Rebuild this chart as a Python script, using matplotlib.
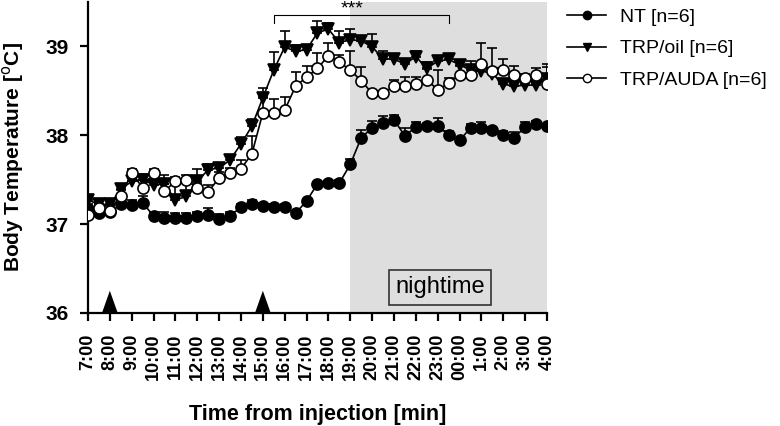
import numpy as np
import matplotlib
matplotlib.use('Agg')
import matplotlib.pyplot as plt
from matplotlib.lines import Line2D

plt.rcParams['font.family'] = ['Liberation Sans', 'DejaVu Sans']

# half-hour samples from 7:00 (0 h) to 4:00 next day (21 h)
hours = np.arange(0, 21.5, 0.5)

tick_labels = ['7:00', '8:00', '9:00', '10:00', '11:00', '12:00', '13:00', '14:00',
               '15:00', '16:00', '17:00', '18:00', '19:00', '20:00', '21:00', '22:00',
               '23:00', '00:00', '1:00', '2:00', '3:00', '4:00']

nt = [37.17, 37.12, 37.13, 37.22, 37.21, 37.24, 37.09, 37.07, 37.07, 37.07,
      37.09, 37.10, 37.06, 37.09, 37.19, 37.22, 37.20, 37.19, 37.19, 37.12,
      37.26, 37.45, 37.46, 37.46, 37.67, 37.97, 38.08, 38.13, 38.17, 37.99,
      38.09, 38.10, 38.10, 38.00, 37.94, 38.08, 38.08, 38.06, 38.00, 37.97,
      38.09, 38.12, 38.10]
nt_err = [0.05, 0.08, 0.07, 0.04, 0.06, 0.07, 0.05, 0.06, 0.05, 0.05,
          0.04, 0.08, 0.05, 0.05, 0.03, 0.05, 0.04, 0.04, 0.04, 0.0,
          0.02, 0.02, 0.02, 0.03, 0.06, 0.09, 0.08, 0.08, 0.05, 0.09,
          0.06, 0.04, 0.09, 0.04, 0.02, 0.04, 0.07, 0.03, 0.05, 0.06,
          0.06, 0.04, 0.02]

oil = [37.27, 37.22, 37.22, 37.39, 37.48, 37.50, 37.44, 37.45, 37.27, 37.31,
       37.48, 37.61, 37.63, 37.72, 37.90, 38.10, 38.42, 38.73, 38.99, 38.94,
       38.96, 39.15, 39.19, 39.04, 39.07, 39.06, 38.99, 38.86, 38.85, 38.80,
       38.88, 38.75, 38.83, 38.85, 38.79, 38.73, 38.72, 38.69, 38.57, 38.55,
       38.56, 38.56, 38.63]
oil_err = [0.06, 0.05, 0.04, 0.06, 0.06, 0.06, 0.05, 0.10, 0.19, 0.19,
           0.14, 0.06, 0.06, 0.06, 0.08, 0.08, 0.11, 0.20, 0.18, 0.07,
           0.03, 0.13, 0.07, 0.13, 0.12, 0.03, 0.14, 0.09, 0.03, 0.02,
           0.06, 0.07, 0.04, 0.04, 0.04, 0.06, 0.04, 0.05, 0.03, 0.03,
           0.03, 0.03, 0.17]

auda = [37.10, 37.18, 37.15, 37.32, 37.57, 37.41, 37.57, 37.37, 37.48, 37.49,
        37.41, 37.36, 37.52, 37.57, 37.62, 37.79, 38.25, 38.25, 38.28, 38.55,
        38.65, 38.75, 38.89, 38.82, 38.73, 38.61, 38.47, 38.47, 38.55, 38.55,
        38.57, 38.62, 38.51, 38.58, 38.68, 38.67, 38.80, 38.72, 38.73, 38.68,
        38.64, 38.68, 38.57]
auda_err = [0.04, 0.05, 0.06, 0.06, 0.05, 0.08, 0.05, 0.08, 0.05, 0.06,
            0.05, 0.08, 0.06, 0.06, 0.10, 0.20, 0.18, 0.16, 0.15, 0.16,
            0.13, 0.17, 0.15, 0.08, 0.22, 0.15, 0.02, 0.02, 0.07, 0.10,
            0.08, 0.12, 0.22, 0.06, 0.10, 0.16, 0.24, 0.26, 0.13, 0.10,
            0.05, 0.07, 0.20]

injections = [1, 8]          # 8:00 and 15:00
night = (12, 21)             # 19:00 - 4:00
sig_span = (8.5, 16.5)       # 15:30 - 23:30

fig = plt.figure(figsize=(7.8, 4.26), dpi=100)
ax = fig.add_axes([0.1128, 0.2653, 0.5885, 0.731])

ax.axvspan(night[0], night[1], color='#dedede', lw=0, zorder=0)

series = [
    (nt, nt_err, dict(marker='o', mfc='k', ms=8), 'NT [n=6]'),
    (oil, oil_err, dict(marker='v', mfc='k', ms=8.5), 'TRP/oil [n=6]'),
    (auda, auda_err, dict(marker='o', mfc='white', ms=8), 'TRP/AUDA [n=6]'),
]
handles = []
for i, (vals, err, mk, lab) in enumerate(series):
    vals = np.array(vals)
    err = np.array(err)
    ax.errorbar(hours, vals, yerr=[np.zeros_like(err), err], fmt='none',
                ecolor='k', elinewidth=1.2, capsize=3.5, capthick=1.2, zorder=2 + i)
    ln, = ax.plot(hours, vals, color='k', lw=1.2, mec='k', mew=1.2, zorder=2.5 + i, **mk)
    handles.append(Line2D([], [], color='k', lw=1.2, mec='k', mew=1.0,
                          marker=mk['marker'], mfc=mk['mfc'], ms=mk['ms'] * 0.75, label=lab))

# injection arrowheads
for t in injections:
    ax.fill([t - 0.36, t + 0.36, t], [36.0, 36.0, 36.25], color='k', lw=0, zorder=5, clip_on=False)

# significance bracket
ax.plot([sig_span[0], sig_span[0], sig_span[1], sig_span[1]],
        [39.26, 39.35, 39.35, 39.26], color='k', lw=0.8, clip_on=False)
ax.text(12.1, 39.512, '***', ha='center', va='top', fontsize=14, clip_on=False)

ax.text(16.1, 36.29, 'nightime', ha='center', va='center', fontsize=17,
        bbox=dict(boxstyle='square,pad=0.27', fc='#dedede', ec='#333333', lw=1.2))

ax.set_xlim(0, 21)
ax.set_ylim(36, 39.5)
ax.set_xticks(range(len(tick_labels)))
ax.set_xticklabels(tick_labels, rotation=90, fontsize=13, fontweight='bold')
ax.set_yticks([36, 37, 38, 39])
ax.set_yticklabels(['36', '37', '38', '39'], fontsize=15, fontweight='bold')
ax.tick_params(axis='both', direction='out', length=6, width=1.6, color='k')
ax.tick_params(axis='x', pad=9)
ax.tick_params(axis='y', pad=8)

for s in ['top', 'right']:
    ax.spines[s].set_visible(False)
for s in ['left', 'bottom']:
    ax.spines[s].set_linewidth(1.6)

ax.set_ylabel('Body Temperature [$^{\\mathrm{o}}$C]', fontsize=15, fontweight='bold', labelpad=14)
ax.set_xlabel('Time from injection [min]', fontsize=15.5, fontweight='bold', labelpad=17)

fig.legend(handles=handles, loc='upper left', bbox_to_anchor=(0.727, 0.98),
           frameon=False, fontsize=14, handlelength=2.0, handletextpad=0.7,
           labelspacing=0.7, borderpad=0, borderaxespad=0)

fig.savefig('out.png', dpi=100)
